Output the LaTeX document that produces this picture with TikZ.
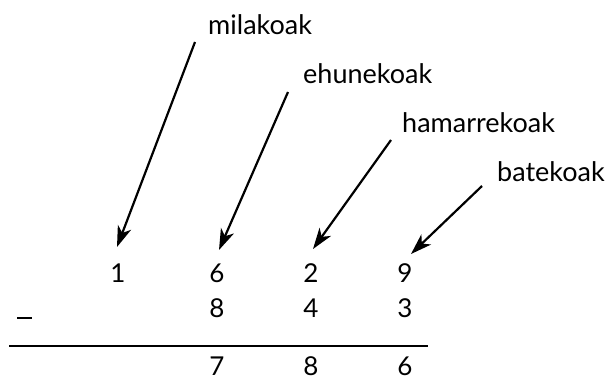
\documentclass[tikz,border=0pt]{standalone}
\usepackage{fontspec}
\setmainfont{Lato}
\usetikzlibrary{arrows.meta}
\begin{document}
\begin{tikzpicture}[x=1pt,y=-1pt,
  lbl/.style={anchor=base west,inner sep=0pt,font=\fontsize{27}{30}\selectfont},
  dig/.style={anchor=base,inner sep=0pt,font=\fontsize{26}{30}\selectfont},
  arr/.style={line width=2.2pt,-{Stealth[length=21pt,width=14pt,inset=6pt]}}]
\useasboundingbox (0,0) rectangle (608,385);
% labels
\node[lbl] (mil) at (208,35) {milakoak};
\node[lbl] (ehu) at (303,84) {ehunekoak};
\node[lbl] (ham) at (402,133) {hamarrekoak};
\node[lbl] (bat) at (497,182) {batekoak};
% digits
\node[dig] (a1) at (118,282) {1};
\node[dig] (a2) at (217,282) {6};
\node[dig] (a3) at (311,282) {2};
\node[dig] (a4) at (405,282) {9};
\node[dig] (b2) at (217,317) {8};
\node[dig] (b3) at (311,317) {4};
\node[dig] (b4) at (405,317) {3};
\node[dig] (c2) at (217,375) {7};
\node[dig] (c3) at (311,375) {8};
\node[dig] (c4) at (405,375) {6};
\node[inner sep=0pt,minimum width=15pt,minimum height=1.6pt,fill=black] (minus) at (24.5,318) {};
% arrow ends
\coordinate (s1) at (195,42);  \coordinate (t1) at (117,247);
\coordinate (s2) at (288,92);  \coordinate (t2) at (219,250);
\coordinate (s3) at (391,140); \coordinate (t3) at (313,249);
\coordinate (s4) at (482,186); \coordinate (t4) at (411,254);
\draw[arr] (s1) -- (t1);
\draw[arr] (s2) -- (t2);
\draw[arr] (s3) -- (t3);
\draw[arr] (s4) -- (t4);
% rule
\coordinate (r1) at (9,346); \coordinate (r2) at (428,346);
\draw[line width=1.4pt] (r1) -- (r2);
\end{tikzpicture}
\end{document}
